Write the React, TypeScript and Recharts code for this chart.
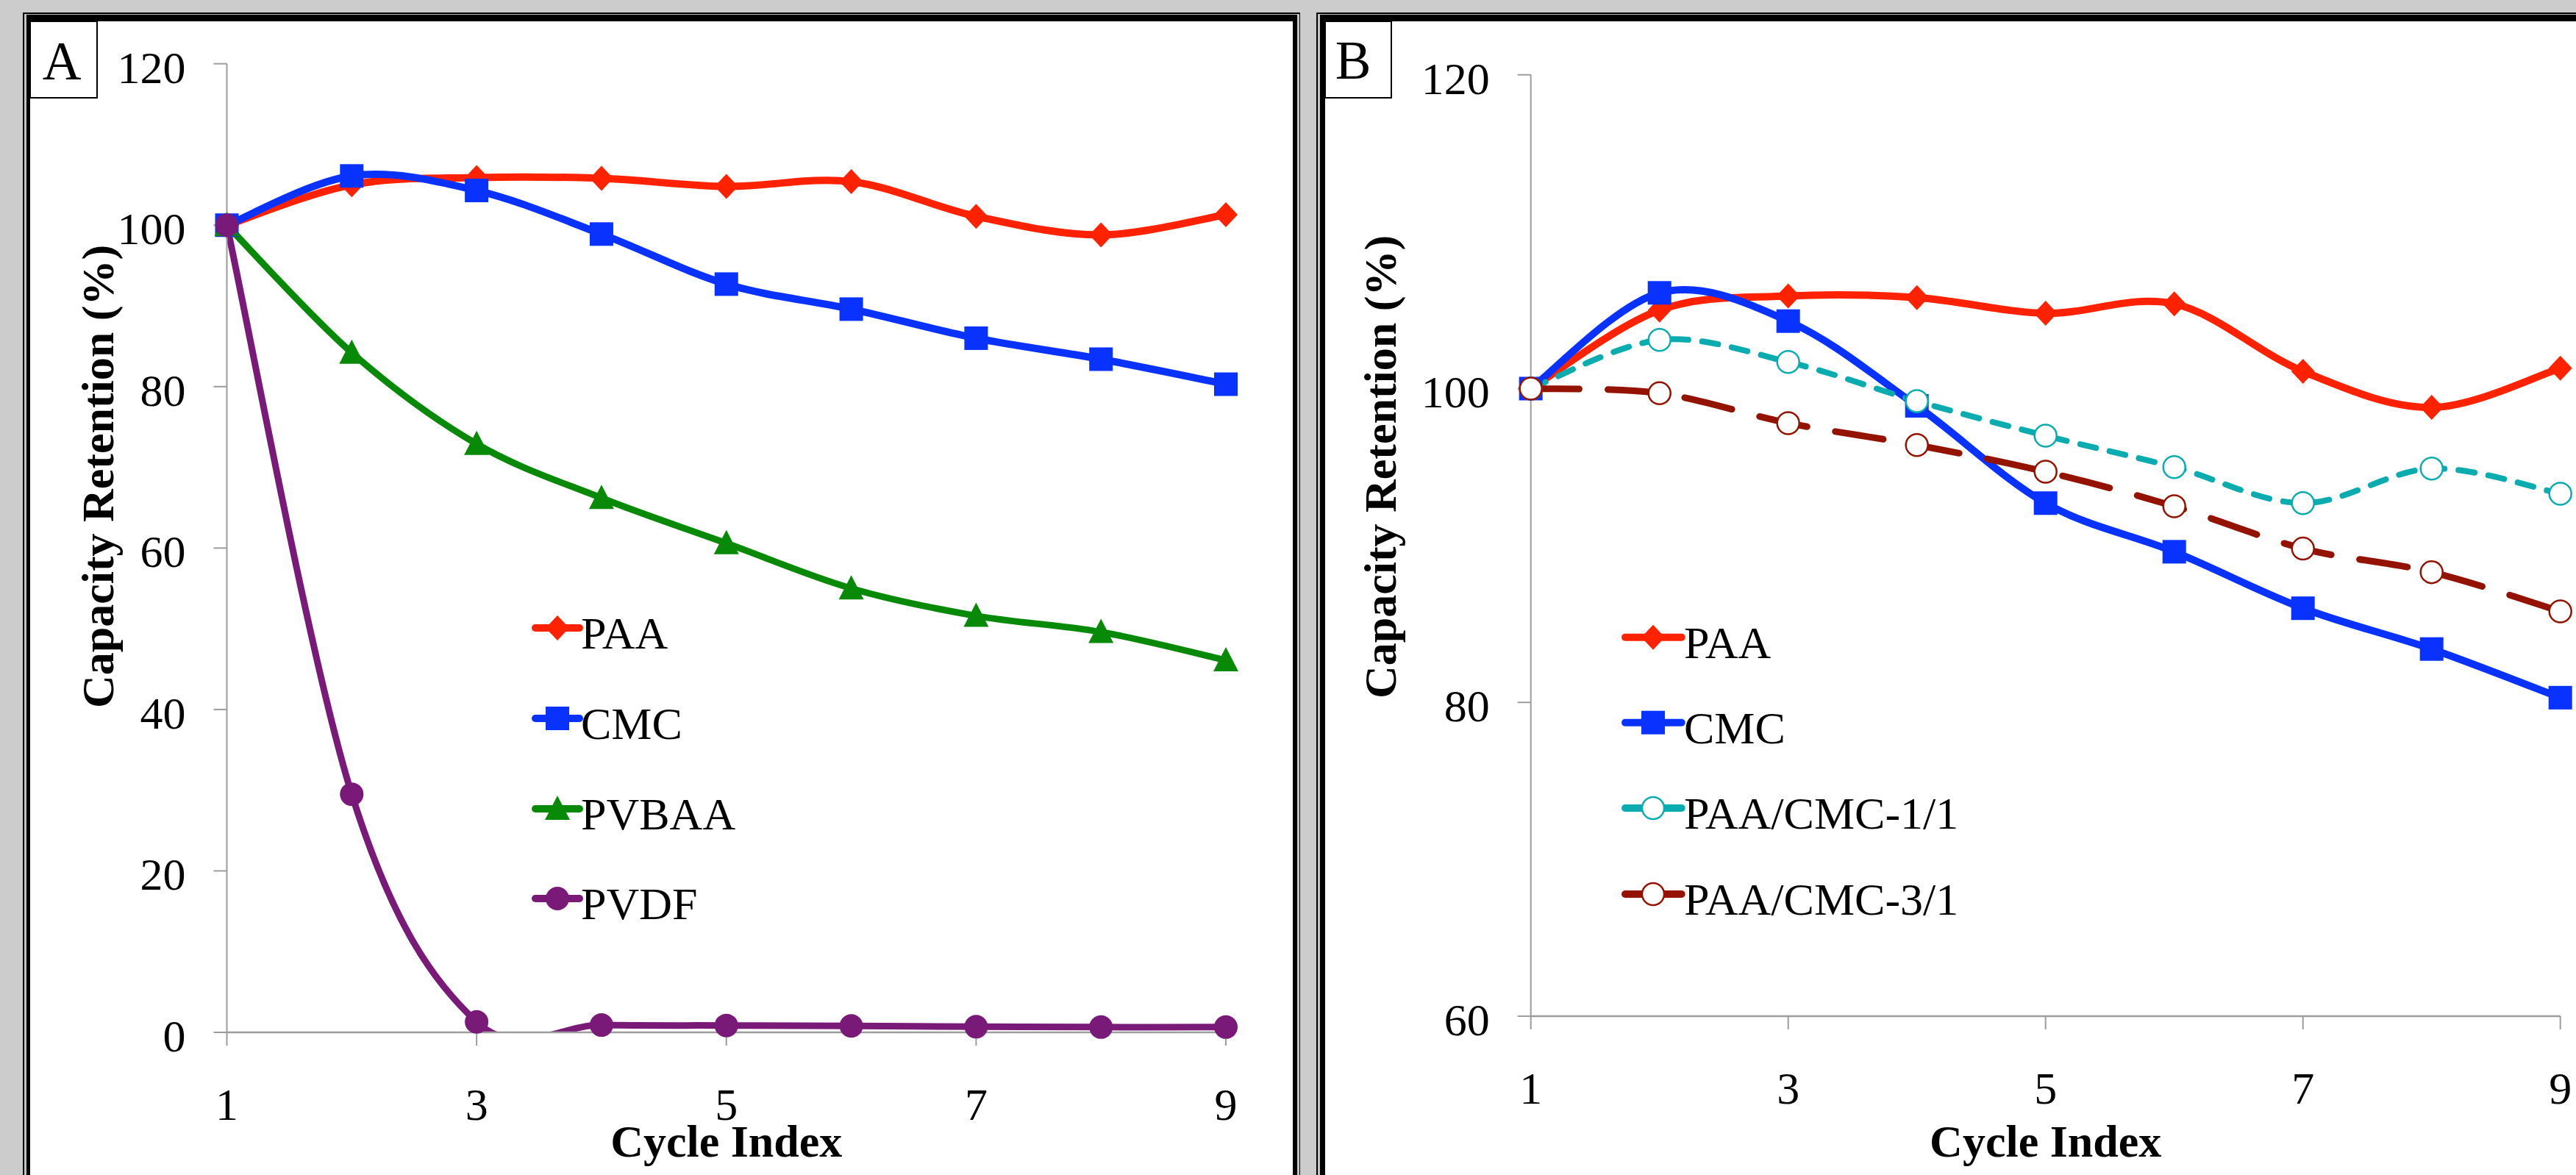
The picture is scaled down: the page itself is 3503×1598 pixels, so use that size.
import React from 'react';
import { LineChart, Line, XAxis, YAxis, Legend, Label } from 'recharts';

// ---------- data ----------
const cycles = [1, 2, 3, 4, 5, 6, 7, 8, 9];
const paa = [100, 105.0, 105.9, 105.8, 104.8, 105.4, 101.1, 98.8, 101.3];
const cmc = [100, 106.1, 104.3, 98.9, 92.7, 89.6, 86.0, 83.4, 80.3];
const pvbaa = [100, 84.2, 72.9, 66.2, 60.6, 55.0, 51.6, 49.6, 46.1];
const pvdf = [100, 29.5, 1.3, 0.9, 0.85, 0.8, 0.7, 0.65, 0.65];
const paaCmc11 = [100, 103.1, 101.7, 99.2, 97.0, 95.0, 92.7, 94.9, 93.3];
const paaCmc31 = [100, 99.7, 97.8, 96.4, 94.7, 92.5, 89.8, 88.3, 85.8];

const xTicks = [1, 3, 5, 7, 9];
const yTicksA = [0, 20, 40, 60, 80, 100, 120];
const yTicksB = [60, 80, 100, 120];

const dataA = cycles.map((c, i) => ({ cycle: c, paa: paa[i], cmc: cmc[i], pvbaa: pvbaa[i], pvdf: pvdf[i] }));
const dataB = cycles.map((c, i) => ({ cycle: c, paa: paa[i], cmc: cmc[i], mix11: paaCmc11[i], mix31: paaCmc31[i] }));

// ---------- styles ----------
const FONT = "'Liberation Serif', 'Times New Roman', Times, serif";
const AX = '#9c9c9c';
const RED = '#ff2200';
const BLUE = '#0a32ff';
const GREEN = '#088a08';
const PURPLE = '#7a1a78';
const TEAL = '#0aacb0';
const DARKRED = '#941200';

type Shape = 'diamond' | 'square' | 'triangle' | 'circle' | 'open';
const SERIES: Record<string, { name: string; color: string; shape: Shape; width: number; dash?: string }> = {
  paa: { name: 'PAA', color: RED, shape: 'diamond', width: 10 },
  cmc: { name: 'CMC', color: BLUE, shape: 'square', width: 10 },
  pvbaa: { name: 'PVBAA', color: GREEN, shape: 'triangle', width: 9 },
  pvdf: { name: 'PVDF', color: PURPLE, shape: 'circle', width: 9 },
  mix11: { name: 'PAA/CMC-1/1', color: TEAL, shape: 'open', width: 8, dash: '22 19' },
  mix31: { name: 'PAA/CMC-3/1', color: DARKRED, shape: 'open', width: 9, dash: '66 39' },
};

// Excel-like smoothed line (Catmull-Rom bezier)
const excelSmooth = (context: any) => {
  let pts: number[][] = [];
  return {
    areaStart() {},
    areaEnd() {},
    lineStart() {
      pts = [];
    },
    point(x: number, y: number) {
      pts.push([+x, +y]);
    },
    lineEnd() {
      const n = pts.length;
      if (n === 0) return;
      context.moveTo(pts[0][0], pts[0][1]);
      for (let i = 0; i < n - 1; i++) {
        const p0 = pts[Math.max(i - 1, 0)];
        const p1 = pts[i];
        const p2 = pts[i + 1];
        const p3 = pts[Math.min(i + 2, n - 1)];
        context.bezierCurveTo(
          p1[0] + (p2[0] - p0[0]) / 6,
          p1[1] + (p2[1] - p0[1]) / 6,
          p2[0] - (p3[0] - p1[0]) / 6,
          p2[1] - (p3[1] - p1[1]) / 6,
          p2[0],
          p2[1]
        );
      }
    },
  };
};

function marker(shape: Shape, cx: number, cy: number, color: string, key: string) {
  switch (shape) {
    case 'diamond':
      return <polygon key={key} points={`${cx},${cy - 17} ${cx + 16},${cy} ${cx},${cy + 17} ${cx - 16},${cy}`} fill={color} />;
    case 'square':
      return <rect key={key} x={cx - 16} y={cy - 16} width={32} height={32} fill={color} />;
    case 'triangle':
      return <polygon key={key} points={`${cx},${cy - 18} ${cx + 17},${cy + 15} ${cx - 17},${cy + 15}`} fill={color} />;
    case 'circle':
      return <circle key={key} cx={cx} cy={cy} r={16} fill={color} />;
    default:
      return <circle key={key} cx={cx} cy={cy} r={15} fill="#ffffff" stroke={color} strokeWidth={2.5} />;
  }
}

const dotFor = (k: string) => (p: any) => {
  if (p.cx == null || p.cy == null) return <g key={`n-${k}-${p.index}`} />;
  return marker(SERIES[k].shape, p.cx, p.cy, SERIES[k].color, `d-${k}-${p.index}`);
};

const yTick = (p: any) => (
  <text key={`yt-${p.index}`} x={p.x} y={p.y + 26} textAnchor="end" fontSize={62} fontFamily={FONT} fill="#000">
    {p.payload.value}
  </text>
);
const xTick = (p: any) => (
  <text key={`xt-${p.index}`} x={p.x} y={p.y + 44} textAnchor="middle" fontSize={62} fontFamily={FONT} fill="#000">
    {p.payload.value}
  </text>
);

const xTitle = (p: any) => {
  const vb = p.viewBox;
  return (
    <text x={vb.x + vb.width / 2} y={vb.y + vb.height - 25} textAnchor="middle" fontSize={62} fontWeight="bold" fontFamily={FONT} fill="#000">
      Cycle Index
    </text>
  );
};
const yTitle = (bx: number, cy: number) => () => (
  <text x={bx} y={cy} transform={`rotate(-90, ${bx}, ${cy})`} textAnchor="middle" fontSize={62} fontWeight="bold" fontFamily={FONT} fill="#000">
    Capacity Retention (%)
  </text>
);

type LegendCfg = { w: number; h: number; cx: number; ys: number[]; left: number; right: number; textDx: number };
const legendContent = (cfg: LegendCfg, order: string[]) => (props: any) => {
  const payload = [...(props.payload || [])].sort(
    (a: any, b: any) => order.indexOf(String(a.dataKey)) - order.indexOf(String(b.dataKey))
  );
  return (
    <svg width={cfg.w} height={cfg.h} style={{ position: 'absolute', left: 0, top: 0, overflow: 'visible' }}>
      {payload.map((entry: any, i: number) => {
        const k = String(entry.dataKey);
        const s = SERIES[k];
        const y = cfg.ys[i];
        return (
          <g key={k}>
            <line x1={cfg.cx - cfg.left} y1={y} x2={cfg.cx + cfg.right} y2={y} stroke={s.color} strokeWidth={10} strokeLinecap="round" />
            {marker(s.shape, cfg.cx, y, s.color, `lm-${k}`)}
            <text x={cfg.cx + cfg.textDx} y={y + 28} fontSize={62} fontFamily={FONT} fill="#000">
              {entry.value}
            </text>
          </g>
        );
      })}
    </svg>
  );
};

// ---------- panels ----------
const AW = 1768;
const H = 1598;
const BL = 1780;
const BW = 3503 - BL;

function ChartA() {
  const order = ['paa', 'cmc', 'pvbaa', 'pvdf'];
  return (
    <div style={{ position: 'absolute', left: 0, top: 0 }}>
      <LineChart width={AW} height={H} data={dataA} margin={{ top: 86.7, right: 101, bottom: 0, left: 100 }}>
        <XAxis
          dataKey="cycle"
          type="number"
          domain={[1, 9]}
          ticks={xTicks}
          interval={0}
          height={194}
          tickSize={18}
          tickMargin={57}
          axisLine={{ stroke: AX, strokeWidth: 2.5 }}
          tickLine={{ stroke: AX, strokeWidth: 2 }}
          tick={xTick}
          label={<Label content={xTitle} />}
        />
        <YAxis
          yAxisId="main"
          domain={[0, 120]}
          ticks={yTicksA}
          interval={0}
          width={208.5}
          tickSize={18}
          tickMargin={38}
          axisLine={{ stroke: AX, strokeWidth: 2 }}
          tickLine={{ stroke: AX, strokeWidth: 2 }}
          tick={yTick}
          label={<Label content={yTitle(154, 648)} />}
        />
        <YAxis yAxisId="clip" hide width={0} domain={[0, 120]} allowDataOverflow />
        <Legend
          layout="vertical"
          align="center"
          verticalAlign="middle"
          wrapperStyle={{ left: 0, top: 0, width: AW, height: H, margin: 0, padding: 0, pointerEvents: 'none' }}
          content={legendContent({ w: AW, h: H, cx: 758, ys: [854, 977, 1100, 1222], left: 30, right: 30, textDx: 32 }, order)}
        />
        {(['paa', 'cmc', 'pvbaa'] as string[]).map((k) => (
          <Line
            key={k}
            yAxisId="main"
            dataKey={k}
            name={SERIES[k].name}
            type={excelSmooth as any}
            stroke={SERIES[k].color}
            strokeWidth={SERIES[k].width}
            strokeLinecap="round"
            strokeLinejoin="round"
            dot={dotFor(k)}
            activeDot={false}
            isAnimationActive={false}
          />
        ))}
        <Line
          yAxisId="clip"
          dataKey="pvdf"
          name={SERIES.pvdf.name}
          type={excelSmooth as any}
          stroke={PURPLE}
          strokeWidth={SERIES.pvdf.width}
          strokeLinecap="round"
          strokeLinejoin="round"
          dot={{ clipDot: false, r: 16, fill: PURPLE, stroke: PURPLE, strokeWidth: 0 }}
          activeDot={false}
          isAnimationActive={false}
        />
      </LineChart>
    </div>
  );
}

function ChartB() {
  const order = ['paa', 'cmc', 'mix11', 'mix31'];
  return (
    <div style={{ position: 'absolute', left: BL, top: 0 }}>
      <LineChart width={BW} height={H} data={dataB} margin={{ top: 101.7, right: 21.3, bottom: 0, left: 100 }}>
        <XAxis
          dataKey="cycle"
          type="number"
          domain={[1, 9]}
          ticks={xTicks}
          interval={0}
          height={216}
          tickSize={18}
          tickMargin={57}
          axisLine={{ stroke: AX, strokeWidth: 2.5 }}
          tickLine={{ stroke: AX, strokeWidth: 2 }}
          tick={xTick}
          label={<Label content={xTitle} />}
        />
        <YAxis
          domain={[60, 120]}
          ticks={yTicksB}
          interval={0}
          width={201.7}
          tickSize={18}
          tickMargin={38}
          axisLine={{ stroke: AX, strokeWidth: 2 }}
          tickLine={{ stroke: AX, strokeWidth: 2 }}
          tick={yTick}
          label={<Label content={yTitle(118, 635)} />}
        />
        <Legend
          layout="vertical"
          align="center"
          verticalAlign="middle"
          wrapperStyle={{ left: 0, top: 0, width: BW, height: H, margin: 0, padding: 0, pointerEvents: 'none' }}
          content={legendContent({ w: BW, h: H, cx: 468, ys: [866.7, 982.7, 1099, 1216], left: 38, right: 38.7, textDx: 42 }, order)}
        />
        {order.map((k) => (
          <Line
            key={k}
            dataKey={k}
            name={SERIES[k].name}
            type={excelSmooth as any}
            stroke={SERIES[k].color}
            strokeWidth={SERIES[k].width}
            strokeDasharray={SERIES[k].dash}
            strokeLinecap="round"
            strokeLinejoin="round"
            dot={dotFor(k)}
            activeDot={false}
            isAnimationActive={false}
          />
        ))}
      </LineChart>
    </div>
  );
}

function Frame({ left, width }: { left: number; width: number }) {
  return (
    <>
      <div style={{ position: 'absolute', left, top: 17, width, height: 1700, background: '#000' }} />
      <div style={{ position: 'absolute', left: left + 2, top: 18.5, width: width - 3.5, height: 1700, background: '#c2c2c2' }} />
      <div style={{ position: 'absolute', left: left + 5, top: 20, width: width - 9, height: 1700, background: '#000' }} />
    </>
  );
}

export default function App() {
  return (
    <div style={{ position: 'absolute', left: 0, top: 0, width: 3503, height: 1598, background: '#cccccc', overflow: 'hidden', fontFamily: FONT }}>
      <Frame left={31} width={1737} />
      <div style={{ position: 'absolute', left: 41, top: 29, width: 1717, height: 1700, background: '#fff' }} />
      <Frame left={1790} width={1800} />
      <div style={{ position: 'absolute', left: 1802, top: 29, width: 1800, height: 1700, background: '#fff' }} />
      <ChartA />
      <ChartB />
      <svg width={3503} height={1598} style={{ position: 'absolute', left: 0, top: 0, pointerEvents: 'none' }}>
        <rect x={41} y={29} width={91} height={104} fill="#fff" stroke="#000" strokeWidth={2} />
        <text x={84} y={108} textAnchor="middle" fontSize={73} fontFamily={FONT} fill="#000">A</text>
        <rect x={1802} y={29} width={90} height={104} fill="#fff" stroke="#000" strokeWidth={2} />
        <text x={1840} y={107} textAnchor="middle" fontSize={73} fontFamily={FONT} fill="#000">B</text>
      </svg>
    </div>
  );
}
